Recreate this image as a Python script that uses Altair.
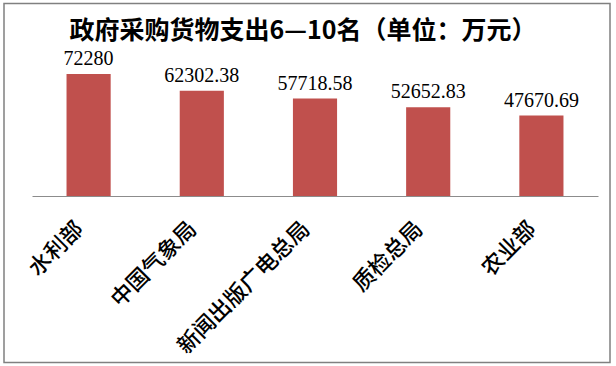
import altair as alt
import pandas as pd

categories = ["水利部", "中国气象局", "新闻出版广电总局", "质检总局", "农业部"]
values = [72280, 62302.38, 57718.58, 52652.83, 47670.69]
value_labels = ["72280", "62302.38", "57718.58", "52652.83", "47670.69"]
title_text = "政府采购货物支出6—10名（单位：万元）"

df = pd.DataFrame({"cat": categories, "val": values, "lab": value_labels})

W, H = 566, 135
PAD_L, PAD_T = 32, 61
PAD_R = 616 - W - PAD_L
PAD_B = 366 - H - PAD_T

base = alt.Chart(df).encode(
    x=alt.X(
        "cat:N",
        sort=categories,
        scale=alt.Scale(paddingInner=0.61, paddingOuter=0.305),
        axis=alt.Axis(
            title=None,
            ticks=False,
            labelAngle=-45,
            labelAlign="right",
            labelBaseline="middle",
            labelFont="Noto Sans CJK SC",
            labelFontWeight=500,
            labelFontSize=22,
            labelColor="#000000",
            labelPadding=29,
            labelOffset=-9,
            labelLimit=400,
            domainColor="#8c8c8c",
            domainWidth=1,
        ),
    ),
    y=alt.Y("val:Q", scale=alt.Scale(domain=[0, 80000]), axis=None),
)

bars = base.mark_bar(color="#C0504D")

texts = base.mark_text(
    baseline="alphabetic",
    dy=-9,
    font="Liberation Serif",
    fontSize=20,
    color="#000000",
).encode(text="lab:N")

frame = alt.Chart(alt.Data(values=[{"f": 1}])).mark_rect(
    fill=None, stroke="#808080", strokeWidth=1.5
).encode(
    x=alt.value(4 - PAD_L),
    x2=alt.value(610 - PAD_L),
    y=alt.value(3.5 - PAD_T),
    y2=alt.value(362.5 - PAD_T),
)

chart = (
    alt.layer(bars, texts, frame)
    .properties(
        width=W,
        height=H,
        title=alt.TitleParams(
            title_text,
            font="Noto Sans CJK SC",
            fontSize=25,
            fontWeight="bold",
            color="#000000",
            anchor="middle",
            frame="group",
            offset=-41,
            dx=-12,
        ),
        padding={"left": PAD_L, "top": PAD_T, "right": PAD_R, "bottom": PAD_B},
        autosize=alt.AutoSizeParams(type="none"),
        background="#ffffff",
    )
    .configure_view(stroke=None)
)

chart.save("out.html", embed_options={"renderer": "svg", "actions": False})
